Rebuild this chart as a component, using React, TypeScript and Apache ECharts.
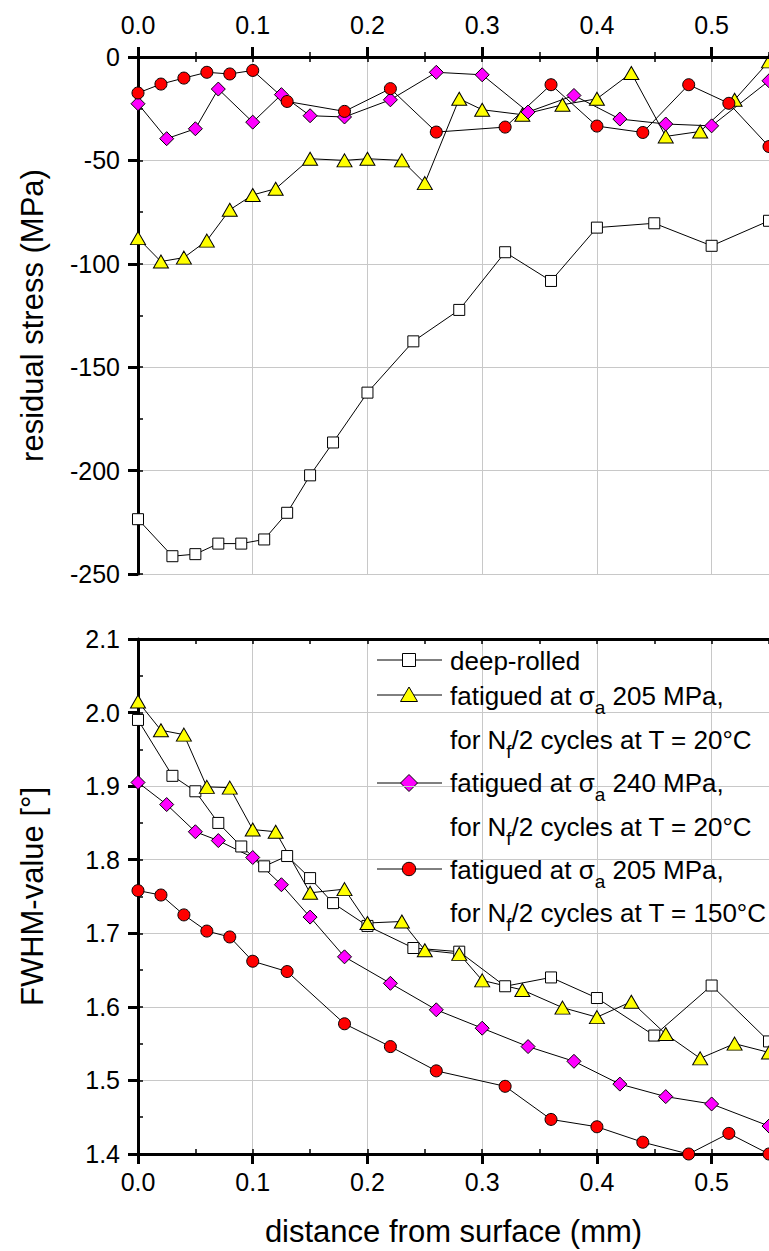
import React, { useEffect, useRef } from "react";
import * as echarts from "echarts";

// ---- data ----
const squareX = [0, 0.03, 0.05, 0.07, 0.09, 0.11, 0.13, 0.15, 0.17, 0.2, 0.24, 0.28, 0.32, 0.36, 0.4, 0.45, 0.5, 0.55];
const squareStress = [-223.5, -241.4, -240.4, -235.3, -235.3, -233.3, -220.4, -202.3, -186.4, -162.3, -137.5, -122.3, -94.4, -108.3, -82.5, -80.4, -91.3, -79.2];
const squareFwhm = [1.990, 1.914, 1.893, 1.850, 1.818, 1.791, 1.805, 1.775, 1.741, 1.710, 1.680, 1.675, 1.628, 1.640, 1.612, 1.561, 1.629, 1.553];

const triangleX = [0, 0.02, 0.04, 0.06, 0.08, 0.1, 0.12, 0.15, 0.18, 0.2, 0.23, 0.25, 0.28, 0.3, 0.335, 0.37, 0.4, 0.43, 0.46, 0.49, 0.52, 0.55];
const triangleStress = [-87.6, -98.9, -97.0, -88.8, -73.9, -66.7, -63.7, -49.2, -50.0, -49.2, -50.0, -61.0, -20.2, -25.5, -27.9, -23.1, -20.2, -7.7, -38.4, -36.0, -20.7, -2.1];
const triangleFwhm = [2.015, 1.976, 1.970, 1.899, 1.898, 1.841, 1.838, 1.755, 1.760, 1.714, 1.716, 1.677, 1.672, 1.636, 1.623, 1.599, 1.586, 1.607, 1.563, 1.530, 1.550, 1.538];

const diamondX = [0, 0.025, 0.05, 0.07, 0.1, 0.125, 0.15, 0.18, 0.22, 0.26, 0.3, 0.34, 0.38, 0.42, 0.46, 0.5, 0.55];
const diamondStress = [-22.6, -39.5, -34.7, -15.5, -31.5, -18.2, -28.4, -29.0, -20.7, -7.4, -8.6, -26.6, -18.6, -30.0, -32.4, -33.3, -11.5];
const diamondFwhm = [1.905, 1.875, 1.838, 1.826, 1.803, 1.766, 1.722, 1.668, 1.632, 1.596, 1.571, 1.546, 1.526, 1.495, 1.478, 1.468, 1.438];

const circleX = [0, 0.02, 0.04, 0.06, 0.08, 0.1, 0.13, 0.18, 0.22, 0.26, 0.32, 0.36, 0.4, 0.44, 0.48, 0.515, 0.55];
const circleStress = [-17.4, -13.1, -10.2, -7.4, -8.2, -6.5, -21.5, -26.3, -15.3, -36.3, -33.9, -13.4, -33.4, -36.5, -13.4, -22.4, -43.3];
const circleFwhm = [1.758, 1.752, 1.725, 1.703, 1.695, 1.662, 1.648, 1.577, 1.546, 1.513, 1.492, 1.447, 1.437, 1.416, 1.400, 1.428, 1.400];

const xAxisTitle = "distance from surface (mm)";
const topYTitle = "residual stress (MPa)";
const bottomYTitle = "FWHM-value [°]";

// legend text lines: segments of [text, isSubscript]
const legendDeep: [string, boolean][][] = [[["deep-rolled", false]]];
const legend205: [string, boolean][][] = [
  [["fatigued at σ", false], ["a", true], [" 205 MPa,", false]],
  [["for N", false], ["f", true], ["/2 cycles at T = 20°C", false]],
];
const legend240: [string, boolean][][] = [
  [["fatigued at σ", false], ["a", true], [" 240 MPa,", false]],
  [["for N", false], ["f", true], ["/2 cycles at T = 20°C", false]],
];
const legend150: [string, boolean][][] = [
  [["fatigued at σ", false], ["a", true], [" 205 MPa,", false]],
  [["for N", false], ["f", true], ["/2 cycles at T = 150°C", false]],
];

const FONT = '"Liberation Sans", Arial, sans-serif';

const pair = (xs: number[], ys: number[]) => xs.map((x, i) => [x, ys[i]]);

export default function App() {
  const ref = useRef<HTMLDivElement>(null);

  useEffect(() => {
    const chart = echarts.init(ref.current!, null, { renderer: "svg" });

    const canvas = document.createElement("canvas");
    const ctx = canvas.getContext("2d")!;
    const measure = (t: string, size: number) => {
      ctx.font = `${size}px ${FONT}`;
      return ctx.measureText(t).width;
    };

    const MAIN = 26;
    const SUB = 19;
    const textX = 450;
    const textEls: any[] = [];
    const addLine = (segs: [string, boolean][], y: number) => {
      let x = textX;
      segs.forEach(([t, sub]) => {
        const size = sub ? SUB : MAIN;
        textEls.push({
          type: "text",
          x,
          y: sub ? y + 11 : y,
          silent: true,
          z: 100,
          style: { text: t, fontSize: size, fontFamily: FONT, fill: "#000", align: "left", verticalAlign: "middle" },
        });
        x += measure(t, size);
      });
    };
    addLine(legendDeep[0], 661);
    addLine(legend205[0], 696);
    addLine(legend205[1], 740);
    addLine(legend240[0], 783);
    addLine(legend240[1], 827);
    addLine(legend150[0], 870);
    addLine(legend150[1], 913);

    const mx = 409;
    const lineEl = (y: number) => ({
      type: "line",
      silent: true,
      shape: { x1: 377, y1: y, x2: 442, y2: y },
      style: { stroke: "#000", lineWidth: 1 },
    });
    const mk = { stroke: "#000", lineWidth: 1 };
    const legendMarkers = [
      lineEl(660),
      { type: "rect", silent: true, shape: { x: mx - 6.5, y: 660 - 6.5, width: 13, height: 13 }, style: { fill: "#fff", ...mk } },
      lineEl(695),
      { type: "polygon", silent: true, shape: { points: [[mx, 695 - 8], [mx + 8.5, 695 + 6.5], [mx - 8.5, 695 + 6.5]] }, style: { fill: "#ffff00", ...mk } },
      lineEl(783),
      { type: "polygon", silent: true, shape: { points: [[mx, 783 - 8.5], [mx + 8.5, 783], [mx, 783 + 8.5], [mx - 8.5, 783]] }, style: { fill: "#ff00ff", ...mk } },
      lineEl(869),
      { type: "circle", silent: true, shape: { cx: mx, cy: 869, r: 6.7 }, style: { fill: "#ff0000", ...mk } },
    ];

    const axisLine = { show: true, lineStyle: { color: "#000", width: 3 } };
    const axisTick = { show: true, length: 10, lineStyle: { color: "#000", width: 3 } };
    const minorTickStyle = { show: true, inside: true, length: 5, lineStyle: { color: "#000", width: 1.5 } };
    const splitLine = { show: true, lineStyle: { color: "#c8c8c8", width: 1 } };
    const labelStyle = { fontSize: 25, fontFamily: FONT, color: "#000" };
    const nameStyle = { fontSize: 31, fontFamily: FONT, color: "#000" };
    const hidden = { axisLine: { show: false }, splitLine: { show: false }, axisLabel: { show: false } };

    const xBase = { type: "value", min: 0, max: 0.55, interval: 0.1 };
    const xMinor = { type: "value", min: 0, max: 0.55, interval: 0.05 };

    const mkSeries = (idx: number, data: number[][], symbol: string, size: any, fill: string) => ({
      type: "line",
      xAxisIndex: idx === 0 ? 0 : 2,
      yAxisIndex: idx,
      data,
      symbol,
      symbolSize: size,
      showAllSymbol: true,
      silent: true,
      clip: true,
      z: 3,
      lineStyle: { color: "#000", width: 1 },
      itemStyle: { color: fill, borderColor: "#000", borderWidth: 1 },
      emphasis: { disabled: true },
    });

    const option: any = {
      animation: false,
      backgroundColor: "#fff",
      grid: [
        { left: 138, right: -3, top: 57, height: 517 },
        { left: 138, right: -3, top: 639, height: 515 },
      ],
      xAxis: [
        {
          ...xBase, gridIndex: 0, position: "top",
          axisLine, axisTick, splitLine,
          axisLabel: { ...labelStyle, margin: 20, showMaxLabel: false, formatter: (v: number) => v.toFixed(1) },
        },
        {
          ...xMinor, gridIndex: 0, position: "bottom", z: 5,
          axisLine, axisTick: minorTickStyle, splitLine: { show: false }, axisLabel: { show: false },
        },
        {
          ...xBase, gridIndex: 1, position: "bottom",
          axisLine, axisTick, splitLine,
          axisLabel: { ...labelStyle, margin: 15, showMaxLabel: false, formatter: (v: number) => v.toFixed(1) },
          name: xAxisTitle, nameLocation: "middle", nameGap: 62, nameTextStyle: nameStyle,
        },
        {
          ...xMinor, gridIndex: 1, position: "top", z: 5,
          axisLine, axisTick: minorTickStyle, splitLine: { show: false }, axisLabel: { show: false },
        },
        // inward minor ticks on labelled x axes
        { ...xMinor, gridIndex: 0, position: "top", axisTick: minorTickStyle, ...hidden },
        { ...xMinor, gridIndex: 1, position: "bottom", axisTick: minorTickStyle, ...hidden },
      ],
      yAxis: [
        {
          type: "value", gridIndex: 0, position: "left", min: -250, max: 0, interval: 50,
          axisLine, axisTick, splitLine,
          axisLabel: { ...labelStyle, margin: 18 },
          name: topYTitle, nameLocation: "middle", nameGap: 90, nameRotate: 90, nameTextStyle: nameStyle,
        },
        {
          type: "value", gridIndex: 1, position: "left", min: 1.4, max: 2.1, interval: 0.1,
          axisLine, axisTick, splitLine,
          axisLabel: { ...labelStyle, margin: 18, formatter: (v: number) => v.toFixed(1) },
          name: bottomYTitle, nameLocation: "middle", nameGap: 90, nameRotate: 90, nameTextStyle: nameStyle,
        },
        { type: "value", gridIndex: 0, position: "left", min: -250, max: 0, interval: 25, axisTick: minorTickStyle, ...hidden },
        { type: "value", gridIndex: 1, position: "left", min: 1.4, max: 2.1, interval: 0.05, axisTick: minorTickStyle, ...hidden },
      ],
      series: [
        mkSeries(0, pair(squareX, squareStress), "rect", 11, "#ffffff"),
        mkSeries(0, pair(triangleX, triangleStress), "triangle", [15, 13], "#ffff00"),
        mkSeries(0, pair(diamondX, diamondStress), "diamond", 14, "#ff00ff"),
        mkSeries(0, pair(circleX, circleStress), "circle", 12, "#ff0000"),
        mkSeries(1, pair(squareX, squareFwhm), "rect", 11, "#ffffff"),
        mkSeries(1, pair(triangleX, triangleFwhm), "triangle", [15, 13], "#ffff00"),
        mkSeries(1, pair(diamondX, diamondFwhm), "diamond", 14, "#ff00ff"),
        mkSeries(1, pair(circleX, circleFwhm), "circle", 12, "#ff0000"),
      ],
      graphic: [...legendMarkers, ...textEls],
    };

    chart.setOption(option);
    return () => chart.dispose();
  }, []);

  return (
    <div
      ref={ref}
      style={{ position: "absolute", left: 0, top: 0, width: 769, height: 1251, background: "#fff", overflow: "hidden" }}
    />
  );
}
